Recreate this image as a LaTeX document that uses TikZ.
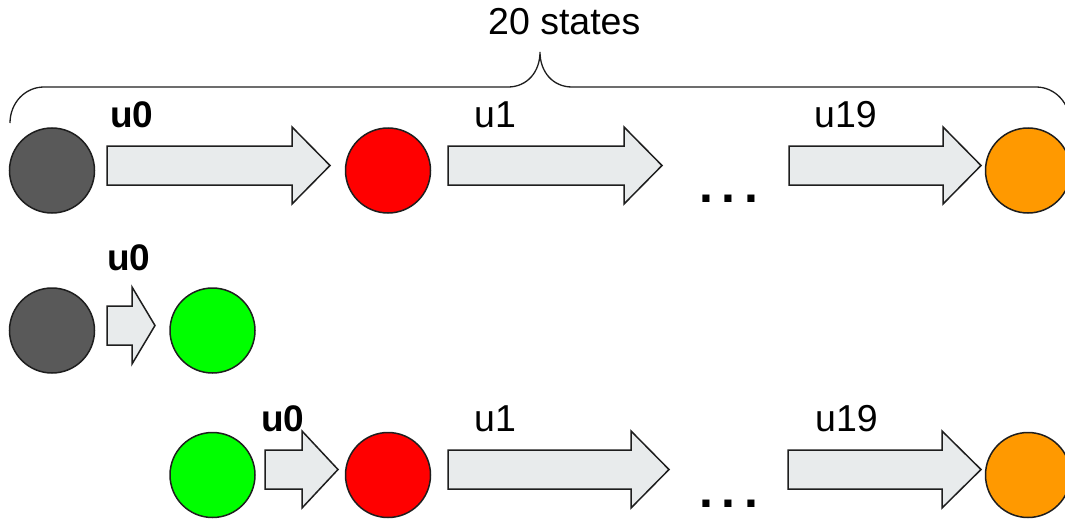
\documentclass[tikz,border=0pt]{standalone}
\usepackage{fontspec}
\setmainfont{Liberation Sans}
\definecolor{edge}{HTML}{1E1E1E}
\definecolor{arrowfill}{HTML}{E8EBEC}
\definecolor{stgray}{HTML}{595959}
\definecolor{stred}{HTML}{FF0000}
\definecolor{stgreen}{HTML}{00FF00}
\definecolor{storange}{HTML}{FF9900}
% block arrow: body left x, head start x, tip x, centre y
\newcommand\blockarrow[4]{%
  \draw[blockarrow] (#1,#4-19.5) -- (#2,#4-19.5) -- (#2,#4-38.5) -- (#3,#4)
    -- (#2,#4+38.5) -- (#2,#4+19.5) -- (#1,#4+19.5) -- cycle;}
\begin{document}
\begin{tikzpicture}[x=1pt,y=-1pt,
  state/.style={circle, draw=edge, line width=1.5pt, minimum size=85pt, inner sep=0pt},
  blockarrow/.style={draw=edge, fill=arrowfill, line width=1.5pt, line join=miter},
  lbl/.style={anchor=base west, inner sep=0pt, font=\fontsize{37.5}{45}\selectfont},
  boldlbl/.style={lbl, font=\fontsize{37}{45}\selectfont\bfseries},
  dots/.style={anchor=base, inner sep=0pt, font=\fontsize{50}{60}\selectfont\bfseries},
  brace/.style={draw=edge, line width=1.3pt}]
\useasboundingbox (0,0) rectangle (1065,519);
\clip (0,0) rectangle (1065,519);

% brace over the whole first chain
\draw[brace] (10,123) .. controls (10,103) and (25,87) .. (44,87) -- (508,87)
  .. controls (527,87) and (540,72) .. (540,52)
  .. controls (540,72) and (553,87) .. (572,87) -- (1036,87)
  .. controls (1055,87) and (1070,103) .. (1070,123);
\node[lbl] (title) at (488,35) {20 states};

% first chain
\node[state, fill=stgray]   (g1) at (52,170.5) {};
\node[state, fill=stred]    (r1) at (388,170.5) {};
\node[state, fill=storange] (o1) at (1028,170.5) {};
\blockarrow{107}{292}{330}{165.5}
\blockarrow{448}{624}{662}{165.5}
\blockarrow{789}{943}{981}{165.5}
\node[boldlbl] (u0a) at (110,127) {u0};
\node[lbl] (u1a) at (474,127) {u1};
\node[lbl] (u19a) at (814,127) {u19};
\node[dots] (dotsa) at (728.5,202) {.\kern8.6pt.\kern8.6pt.};

% single step
\node[state, fill=stgray]  (g2)  at (52,330.5) {};
\node[state, fill=stgreen] (gr2) at (212.5,330.5) {};
\blockarrow{107}{132}{155}{325.5}
\node[boldlbl] (u0b) at (107,270) {u0};

% chain restarted from the new state
\node[state, fill=stgreen]  (gr3) at (212.5,475) {};
\node[state, fill=stred]    (r3)  at (388,475) {};
\node[state, fill=storange] (o3)  at (1028,475) {};
\blockarrow{265}{302}{338}{469.5}
\blockarrow{448}{631}{669}{469.5}
\blockarrow{788}{942}{981}{469.5}
\node[boldlbl] (u0c) at (261,431) {u0};
\node[lbl] (u1c) at (474,431) {u1};
\node[lbl] (u19c) at (815,431) {u19};
\node[dots] (dotsc) at (728.5,507) {.\kern8.6pt.\kern8.6pt.};
\end{tikzpicture}
\end{document}
